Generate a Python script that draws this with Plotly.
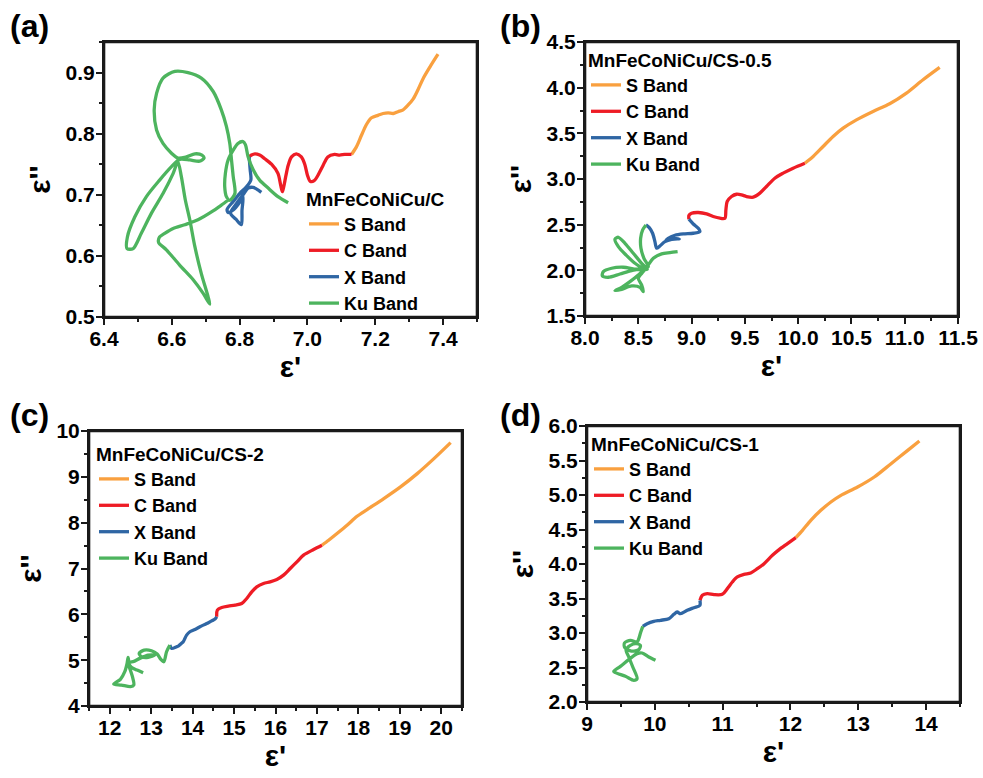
import plotly.graph_objects as go

FONT = "Liberation Sans, Arial, sans-serif"
BAND_NAMES = ["S Band", "C Band", "X Band", "Ku Band"]
BAND_COLORS = ["#F9A03F", "#EE1C25", "#2F66A4", "#4DB45E"]
FRAME = "#1a1a1a"

# ---------------- Panel (a): MnFeCoNiCu/C ----------------
A_TITLE = "MnFeCoNiCu/C"
A_S_X = [7.385, 7.361, 7.341, 7.326, 7.312, 7.297, 7.282, 7.267, 7.253, 7.238, 7.223, 7.208, 7.189, 7.174, 7.159, 7.144, 7.130]
A_S_Y = [0.930, 0.909, 0.890, 0.872, 0.857, 0.847, 0.839, 0.836, 0.833, 0.834, 0.833, 0.830, 0.826, 0.815, 0.797, 0.778, 0.766]
A_C_X = [7.130, 7.110, 7.095, 7.080, 7.060, 7.046, 7.031, 7.020, 7.008, 7.000, 6.992, 6.982, 6.967, 6.953, 6.943, 6.936, 6.930, 6.926, 6.921, 6.913, 6.894, 6.874, 6.859, 6.845, 6.835, 6.828]
A_C_Y = [0.766, 0.766, 0.765, 0.766, 0.762, 0.748, 0.732, 0.723, 0.722, 0.732, 0.750, 0.762, 0.767, 0.762, 0.748, 0.730, 0.713, 0.705, 0.716, 0.735, 0.750, 0.759, 0.765, 0.767, 0.765, 0.762]
A_X_X = [6.828, 6.831, 6.833, 6.820, 6.800, 6.781, 6.763, 6.766, 6.781, 6.798, 6.810, 6.807, 6.805, 6.789, 6.773, 6.790, 6.810, 6.825, 6.840, 6.854, 6.864]
A_X_Y = [0.762, 0.741, 0.724, 0.713, 0.702, 0.689, 0.676, 0.671, 0.675, 0.686, 0.697, 0.675, 0.651, 0.660, 0.670, 0.685, 0.700, 0.711, 0.712, 0.708, 0.704]
A_KU_X = [6.943, 6.913, 6.884, 6.859, 6.840, 6.825, 6.817, 6.810, 6.795, 6.781, 6.766, 6.758, 6.756, 6.761, 6.771, 6.786,
          6.781, 6.776, 6.771, 6.761, 6.746, 6.722, 6.687, 6.648, 6.609, 6.574, 6.555, 6.548, 6.555, 6.574, 6.599, 6.618,
          6.643, 6.668, 6.689, 6.695, 6.682, 6.653, 6.623, 6.599, 6.564, 6.525, 6.491, 6.469, 6.468, 6.486, 6.510, 6.540,
          6.574, 6.604, 6.618, 6.628, 6.640, 6.653, 6.668, 6.687, 6.707, 6.712, 6.692, 6.663, 6.623, 6.584, 6.561, 6.564,
          6.579, 6.604, 6.638, 6.677, 6.717, 6.746, 6.766]
A_KU_Y = [0.687, 0.697, 0.711, 0.724, 0.741, 0.762, 0.782, 0.787, 0.784, 0.773, 0.757, 0.735, 0.713, 0.697, 0.691, 0.702,
          0.730, 0.757, 0.784, 0.812, 0.839, 0.869, 0.891, 0.900, 0.902, 0.891, 0.866, 0.839, 0.806, 0.784, 0.768, 0.760,
          0.762, 0.767, 0.765, 0.760, 0.755, 0.757, 0.758, 0.746, 0.724, 0.697, 0.664, 0.631, 0.612, 0.612, 0.637, 0.670,
          0.702, 0.735, 0.754, 0.730, 0.691, 0.659, 0.615, 0.571, 0.533, 0.521, 0.539, 0.561, 0.585, 0.610, 0.622, 0.631,
          0.637, 0.645, 0.651, 0.659, 0.672, 0.683, 0.691]

# ---------------- Panel (b): MnFeCoNiCu/CS-0.5 ----------------
B_TITLE = "MnFeCoNiCu/CS-0.5"
B_S_X = [11.328, 11.172, 11.016, 10.859, 10.703, 10.547, 10.422, 10.328, 10.234, 10.141, 10.063]
B_S_Y = [4.222, 4.087, 3.941, 3.824, 3.740, 3.648, 3.557, 3.466, 3.356, 3.246, 3.173]
B_C_X = [10.063, 9.953, 9.859, 9.781, 9.703, 9.641, 9.578, 9.516, 9.469, 9.422, 9.375, 9.334, 9.322, 9.313, 9.266, 9.203, 9.141, 9.063, 9.000, 8.975, 8.975]
B_C_Y = [3.173, 3.119, 3.064, 3.009, 2.918, 2.845, 2.801, 2.808, 2.826, 2.833, 2.808, 2.753, 2.662, 2.571, 2.571, 2.589, 2.618, 2.633, 2.625, 2.600, 2.560]
B_X_X = [8.975, 9.016, 9.063, 9.078, 9.016, 8.922, 8.844, 8.781, 8.759, 8.813, 8.884, 8.813, 8.750, 8.703, 8.672, 8.656, 8.634, 8.603, 8.572]
B_X_Y = [2.560, 2.508, 2.461, 2.424, 2.406, 2.399, 2.384, 2.351, 2.326, 2.348, 2.344, 2.340, 2.315, 2.267, 2.242, 2.315, 2.406, 2.468, 2.497]
B_KU_X = [8.572, 8.541, 8.522, 8.525, 8.553, 8.594, 8.547, 8.469, 8.384, 8.313, 8.281, 8.313, 8.375, 8.453, 8.531, 8.584,
          8.484, 8.359, 8.250, 8.172, 8.163, 8.219, 8.328, 8.438, 8.563, 8.500, 8.422, 8.344, 8.281, 8.344, 8.438, 8.516,
          8.547, 8.531, 8.500, 8.547, 8.594, 8.641, 8.719, 8.797, 8.869]
B_KU_Y = [2.497, 2.443, 2.351, 2.242, 2.132, 2.041, 2.023, 2.077, 2.169, 2.260, 2.340, 2.362, 2.296, 2.187, 2.077, 2.012,
          2.012, 2.034, 2.023, 1.986, 1.939, 1.924, 1.960, 1.997, 2.023, 1.949, 1.876, 1.814, 1.778, 1.792, 1.829, 1.814,
          1.767, 1.840, 1.913, 1.986, 2.059, 2.132, 2.180, 2.194, 2.205]

# ---------------- Panel (c): MnFeCoNiCu/CS-2 ----------------
C_TITLE = "MnFeCoNiCu/CS-2"
C_S_X = [20.226, 19.823, 19.419, 19.016, 18.613, 18.210, 17.968, 17.726, 17.484, 17.282, 17.121]
C_S_Y = [9.746, 9.397, 9.070, 8.780, 8.525, 8.286, 8.140, 7.944, 7.763, 7.617, 7.508]
C_C_X = [17.121, 16.919, 16.677, 16.516, 16.355, 16.194, 16.032, 15.871, 15.710, 15.548, 15.427, 15.306, 15.185, 15.024, 14.863, 14.702, 14.597, 14.581]
C_C_Y = [7.508, 7.414, 7.291, 7.145, 7.000, 6.855, 6.760, 6.709, 6.673, 6.600, 6.491, 6.346, 6.237, 6.201, 6.179, 6.150, 6.092, 5.947]
C_X_X = [14.581, 14.540, 14.339, 14.177, 14.056, 13.935, 13.855, 13.774, 13.734, 13.653, 13.613, 13.492, 13.452]
C_X_Y = [5.947, 5.896, 5.801, 5.729, 5.671, 5.620, 5.547, 5.402, 5.370, 5.307, 5.293, 5.257, 5.329]
C_KU_X = [13.452, 13.371, 13.306, 13.234, 13.145, 13.008, 12.831, 12.710, 12.766, 12.927, 13.089, 12.927, 12.726, 12.564,
          12.468, 12.444, 12.419, 12.363, 12.258, 12.097, 12.282, 12.500, 12.581, 12.548, 12.484, 12.444, 12.524, 12.661, 12.806]
C_KU_Y = [5.329, 5.184, 4.966, 5.017, 5.133, 5.206, 5.220, 5.148, 5.075, 5.060, 5.111, 5.111, 5.039, 4.966,
          4.966, 5.060, 4.930, 4.748, 4.581, 4.479, 4.457, 4.421, 4.457, 4.639, 4.821, 4.930, 4.842, 4.784, 4.726]

# ---------------- Panel (d): MnFeCoNiCu/CS-1 ----------------
D_TITLE = "MnFeCoNiCu/CS-1"
D_S_X = [13.901, 13.729, 13.483, 13.236, 12.990, 12.744, 12.596, 12.448, 12.300, 12.177, 12.079]
D_S_Y = [5.783, 5.647, 5.454, 5.261, 5.116, 4.995, 4.899, 4.778, 4.633, 4.488, 4.382]
D_C_X = [12.079, 11.956, 11.833, 11.734, 11.611, 11.512, 11.414, 11.315, 11.217, 11.143, 11.069, 10.995, 10.872, 10.773, 10.700, 10.665]
D_C_Y = [4.382, 4.295, 4.208, 4.126, 4.005, 3.932, 3.870, 3.850, 3.812, 3.739, 3.643, 3.560, 3.556, 3.570, 3.546, 3.473]
D_X_X = [10.665, 10.665, 10.576, 10.478, 10.379, 10.330, 10.281, 10.207, 10.084, 9.985, 9.887, 9.823]
D_X_Y = [3.473, 3.401, 3.367, 3.329, 3.280, 3.304, 3.271, 3.208, 3.184, 3.169, 3.135, 3.097]
D_KU_X = [9.823, 9.793, 9.764, 9.739, 9.640, 9.552, 9.557, 9.655, 9.764, 9.788, 9.724, 9.640, 9.576, 9.616, 9.675, 9.739,
          9.690, 9.567, 9.419, 9.394, 9.493, 9.616, 9.739, 9.813, 9.911, 10.010]
D_KU_Y = [3.097, 3.015, 2.918, 2.870, 2.894, 2.855, 2.788, 2.739, 2.759, 2.821, 2.846, 2.821, 2.759, 2.652, 2.507, 2.338,
          2.314, 2.372, 2.425, 2.445, 2.517, 2.614, 2.701, 2.710, 2.652, 2.604]

PANELS = [
    dict(label="(a)", title=A_TITLE, xs=[A_S_X, A_C_X, A_X_X, A_KU_X], ys=[A_S_Y, A_C_Y, A_X_Y, A_KU_Y],
         xr=[6.4, 7.5], xd=0.2, xt0=6.4, xm=0.1, xf=".1f", yr=[0.5, 0.95], yd=0.1, ym=0.05, yf=".1f"),
    dict(label="(b)", title=B_TITLE, xs=[B_S_X, B_C_X, B_X_X, B_KU_X], ys=[B_S_Y, B_C_Y, B_X_Y, B_KU_Y],
         xr=[8.0, 11.5], xd=0.5, xt0=8.0, xm=0.25, xf=".1f", yr=[1.5, 4.5], yd=0.5, ym=0.25, yf=".1f"),
    dict(label="(c)", title=C_TITLE, xs=[C_S_X, C_C_X, C_X_X, C_KU_X], ys=[C_S_Y, C_C_Y, C_X_Y, C_KU_Y],
         xr=[11.5, 20.5], xd=1, xt0=12, xm=0.5, xf="d", yr=[4, 10], yd=1, ym=0.5, yf="d"),
    dict(label="(d)", title=D_TITLE, xs=[D_S_X, D_C_X, D_X_X, D_KU_X], ys=[D_S_Y, D_C_Y, D_X_Y, D_KU_Y],
         xr=[9, 14.5], xd=1, xt0=9, xm=0.5, xf="d", yr=[2.0, 6.0], yd=0.5, ym=0.25, yf=".1f"),
]

W, H = 983, 778
# plot-area boxes in pixels (left, right, top, bottom)
BOXES = [(104, 477, 42, 317), (585, 958, 42, 316), (89, 462, 431, 706), (587, 960, 426, 702)]
LEGEND_POS = [(304, 181), (586, 42), (94, 436), (589, 426)]
LABEL_POS = [(8, 6), (498, 6), (8, 395), (498, 395)]

fig = go.Figure()
layout = dict(template="none", width=W, height=H, margin=dict(l=0, r=0, t=0, b=0, autoexpand=False),
              paper_bgcolor="white", plot_bgcolor="white", showlegend=True,
              font=dict(family=FONT, color="black"))
annotations = []
shapes = []

for i, p in enumerate(PANELS):
    n = "" if i == 0 else str(i + 1)
    legname = "legend" + n
    for k in range(4):
        fig.add_trace(go.Scatter(
            x=p["xs"][k], y=p["ys"][k], mode="lines", name=BAND_NAMES[k],
            line=dict(color=BAND_COLORS[k], width=3.3, shape="spline", smoothing=0.8),
            xaxis="x" + n, yaxis="y" + n, legend=legname, hoverinfo="skip"))
    l, r, t, b = BOXES[i]
    common = dict(ticks="outside", ticklen=6, tickwidth=2, tickcolor=FRAME,
                  showline=True, linecolor=FRAME, linewidth=2, mirror=True,
                  showgrid=False, zeroline=False, automargin=False,
                  tickfont=dict(family=FONT, size=21, color="black", weight="bold"))
    layout["xaxis" + n] = dict(
        domain=[l / W, r / W], range=p["xr"], anchor="y" + n,
        tickmode="linear", tick0=p["xt0"], dtick=p["xd"], tickformat=p["xf"],
        ticklabelstandoff=-4,
        minor=dict(ticks="outside", ticklen=3, tickwidth=2, tickcolor=FRAME, dtick=p["xm"], tick0=p["xt0"]),
        title=dict(text="ε'", font=dict(family=FONT, size=30, color="black", weight="bold"), standoff=7),
        **common)
    layout["yaxis" + n] = dict(
        domain=[1 - b / H, 1 - t / H], range=p["yr"], anchor="x" + n,
        tickmode="linear", tick0=p["yr"][0], dtick=p["yd"], tickformat=p["yf"],
        ticklabelstandoff=-3,
        minor=dict(ticks="outside", ticklen=3, tickwidth=2, tickcolor=FRAME, dtick=p["ym"], tick0=p["yr"][0]),
        title=dict(text="ε''", font=dict(family=FONT, size=30, color="black", weight="bold"), standoff=6),
        **common)
    # full plot frame drawn on top of the data
    shapes.append(dict(type="rect", xref="x" + n + " domain", yref="y" + n + " domain",
                       x0=0, x1=1, y0=0, y1=1, line=dict(color=FRAME, width=2.6), layer="above"))
    lx, ly = LEGEND_POS[i]
    layout[legname] = dict(
        x=lx / W, y=1 - ly / H, xanchor="left", yanchor="top",
        bgcolor="rgba(0,0,0,0)", borderwidth=0,
        title=dict(text=p["title"], font=dict(family=FONT, size=19, color="black", weight="bold")),
        font=dict(family=FONT, size=18, color="black", weight="bold"),
        tracegroupgap=0)
    ax, ay = LABEL_POS[i]
    annotations.append(dict(text=p["label"], xref="paper", yref="paper", x=ax / W, y=1 - ay / H,
                            xanchor="left", yanchor="top", showarrow=False,
                            font=dict(family=FONT, size=32, color="black", weight="bold")))

layout["annotations"] = annotations
layout["shapes"] = shapes
fig.update_layout(**layout)
fig.write_html("out.html")
